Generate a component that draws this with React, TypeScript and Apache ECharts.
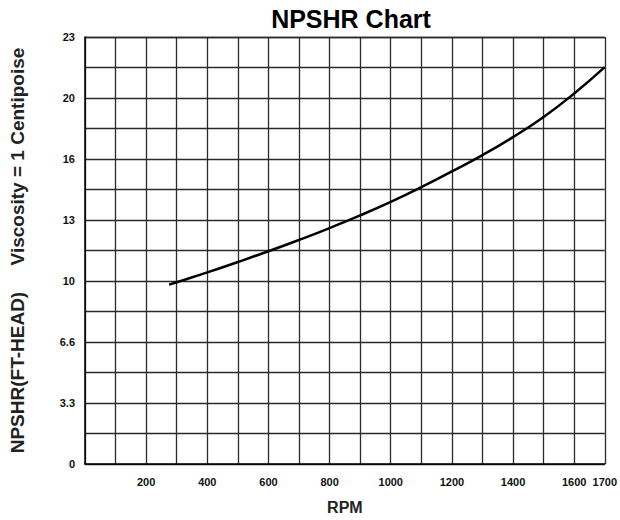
import React, { useEffect, useRef } from "react";
import * as echarts from "echarts";

const rpm = [275, 300, 400, 500, 600, 700, 800, 900, 1000, 1100, 1200, 1300, 1400, 1500, 1600, 1700];
const npshr = [9.66, 9.79, 10.32, 10.88, 11.46, 12.07, 12.71, 13.39, 14.12, 14.91, 15.76, 16.64, 17.61, 18.69, 19.96, 21.38];
const yTickLabels = ["0", "3.3", "6.6", "10", "13", "16", "20", "23"];
const yMax = 23;
const ySteps = 14;
const xMax = 1700;
const xLabelValues = [200, 400, 600, 800, 1000, 1200, 1400, 1600, 1700];

const SP = "\u00a0".repeat(5);

export default function App() {
  const ref = useRef<HTMLDivElement>(null);
  useEffect(() => {
    const chart = echarts.init(ref.current!, null, { renderer: "svg" });
    const yInt = yMax / ySteps;
    chart.setOption({
      animation: false,
      backgroundColor: "#fff",
      title: {
        text: "NPSHR Chart",
        left: 346,
        textAlign: "center",
        top: 1,
        textStyle: { fontFamily: "Liberation Sans", fontWeight: "bold", fontSize: 25, color: "#000" },
      },
      grid: { left: 83, right: 11, top: 37, bottom: 55 },
      xAxis: {
        type: "value",
        min: 0,
        max: xMax,
        interval: 100,
        name: "RPM",
        nameLocation: "middle",
        nameGap: 35,
        nameTextStyle: { fontFamily: "Liberation Sans", fontWeight: "bold", fontSize: 16, color: "#222" },
        axisLine: { show: true, lineStyle: { color: "#000", width: 1.5 } },
        axisTick: { show: false },
        axisLabel: {
          margin: 12,
          hideOverlap: false,
          fontFamily: "Liberation Sans",
          fontWeight: "bold",
          fontSize: 11,
          color: "#111",
          formatter: (v: number) => (xLabelValues.includes(Math.round(v)) ? String(Math.round(v)) : ""),
        },
        splitLine: { show: true, lineStyle: { color: "#2a2a2a", width: 1.3 } },
      },
      yAxis: {
        type: "value",
        min: 0,
        max: yMax,
        interval: yInt,
        name: "NPSHR(FT-HEAD)" + SP + "Viscosity = 1 Centipoise",
        nameLocation: "middle",
        nameGap: 58,
        nameTextStyle: { fontFamily: "Liberation Sans", fontWeight: "bold", fontSize: 19, color: "#222" },
        axisLine: { show: true, lineStyle: { color: "#000", width: 1.5 } },
        axisTick: { show: false },
        axisLabel: {
          margin: 10,
          fontFamily: "Liberation Sans",
          fontWeight: "bold",
          fontSize: 11,
          color: "#111",
          formatter: (v: number) => {
            const k = v / yInt;
            const r = Math.round(k);
            if (Math.abs(k - r) < 1e-6 && r % 2 === 0) return yTickLabels[r / 2] ?? "";
            return "";
          },
        },
        splitLine: { show: true, lineStyle: { color: "#2a2a2a", width: 1.3 } },
      },
      series: [
        {
          type: "line",
          data: rpm.map((x, i) => [x, npshr[i]]),
          smooth: true,
          showSymbol: false,
          lineStyle: { color: "#000", width: 2.5 },
        },
      ],
    });
    return () => chart.dispose();
  }, []);
  return <div ref={ref} style={{ position: "fixed", left: 0, top: 0, width: 620, height: 520 }} />;
}
